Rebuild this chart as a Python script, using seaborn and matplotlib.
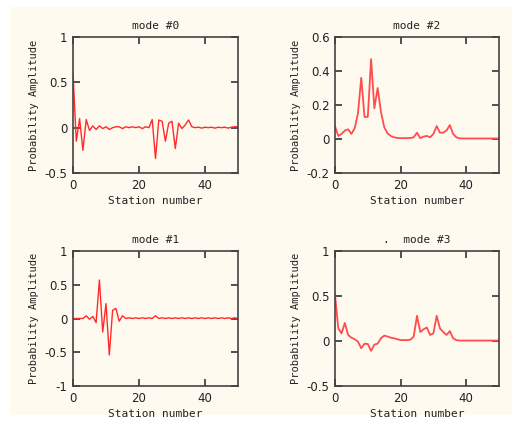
import numpy as np
import pandas as pd
import seaborn as sns
import matplotlib
matplotlib.use("Agg")
import matplotlib.pyplot as plt
from matplotlib.patches import Rectangle

stations = list(range(51))

mode0 = [0.60, -0.15, 0.10, -0.25, 0.09, -0.03, 0.02, -0.02, 0.02, -0.01,
         0.01, -0.02, 0.00, 0.01, 0.01, -0.01, 0.01, 0.00, 0.01, 0.00,
         0.01, -0.01, 0.01, 0.00, 0.09, -0.34, 0.085, 0.07, -0.15, 0.05,
         0.07, -0.23, 0.05, -0.01, 0.03, 0.085, 0.01, 0.00, 0.005, -0.005,
         0.005, 0.00, 0.005, -0.005, 0.005, 0.00, 0.005, -0.005, 0.005, 0.01, 0.01]

mode1 = [0.00, 0.00, 0.00, 0.00, 0.04, -0.01, 0.03, -0.06, 0.57, -0.20,
         0.22, -0.54, 0.12, 0.15, -0.04, 0.04, 0.00, 0.01, 0.00, 0.01,
         0.00, 0.01, 0.00, 0.01, 0.00, 0.04, 0.00, 0.01, 0.00, 0.01,
         0.00, 0.01, 0.00, 0.01, 0.00, 0.01, 0.00, 0.01, 0.00, 0.01,
         0.00, 0.01, 0.00, 0.01, 0.00, 0.01, 0.00, 0.01, 0.00, 0.01, 0.00]

mode2 = [0.076, 0.018, 0.03, 0.05, 0.057, 0.03, 0.063, 0.15, 0.36, 0.13,
         0.13, 0.47, 0.18, 0.30, 0.16, 0.07, 0.033, 0.018, 0.01, 0.006,
         0.005, 0.005, 0.005, 0.006, 0.01, 0.037, 0.005, 0.014, 0.018, 0.01,
         0.03, 0.076, 0.037, 0.037, 0.05, 0.082, 0.03, 0.01, 0.004, 0.003,
         0.003, 0.003, 0.003, 0.003, 0.003, 0.003, 0.003, 0.003, 0.003, 0.003, 0.003]

mode3 = [0.52, 0.14, 0.085, 0.20, 0.067, 0.037, 0.02, -0.007, -0.08, -0.03,
         -0.033, -0.11, -0.04, -0.03, 0.03, 0.06, 0.05, 0.037, 0.03, 0.02,
         0.01, 0.01, 0.01, 0.015, 0.05, 0.28, 0.10, 0.13, 0.15, 0.067,
         0.085, 0.28, 0.14, 0.10, 0.067, 0.11, 0.03, 0.01, 0.005, 0.005,
         0.005, 0.005, 0.005, 0.005, 0.005, 0.005, 0.005, 0.005, 0.005, 0.005, 0.005]

titles = ["mode #0", "mode #2", "mode #1", ".  mode #3"]
series = [mode0, mode2, mode1, mode3]
ylims = [(-0.5, 1), (-0.2, 0.6), (-1, 1), (-0.5, 1)]
yticks = [[-0.5, 0, 0.5, 1], [-0.2, 0, 0.2, 0.4, 0.6], [-1, -0.5, 0, 0.5, 1], [-0.5, 0, 0.5, 1]]
yticklabels = [["-0.5", "0", "0.5", "1"], ["-0.2", "0", "0.2", "0.4", "0.6"],
               ["-1", "-0.5", "0", "0.5", "1"], ["-0.5", "0", "0.5", "1"]]
xticks = [0, 20, 40]
xticklabels = ["0", "20", "40"]

sns.set_style("ticks")
plt.rcParams["font.family"] = ["DejaVu Sans Mono", "DejaVu Sans"]

W, H = 517, 421
fig = plt.figure(figsize=(W / 100, H / 100), dpi=100, facecolor="white")
cream = "#fffaf0"
fig.patches.append(Rectangle((10 / W, 1 - 415 / H), 502 / W, 408 / H,
                             transform=fig.transFigure, facecolor=cream,
                             edgecolor="none", zorder=-10))

positions = [(73, 37, 238, 173), (335, 37, 499, 173), (73, 251, 238, 386), (335, 251, 499, 386)]
colors = ["#ff2a2a", "#ff4d4d", "#ff2a2a", "#ff4d4d"]
lws = [1.0, 1.3, 1.0, 1.3]

for i in range(4):
    l, t, r, b = positions[i]
    ax = fig.add_axes([l / W, 1 - b / H, (r - l) / W, (b - t) / H])
    ax.set_facecolor(cream)
    df = pd.DataFrame({"station": stations, "amp": series[i]})
    sns.lineplot(data=df, x="station", y="amp", ax=ax, color=colors[i], lw=lws[i])
    ax.set_xlim(0, 50)
    ax.set_ylim(*ylims[i])
    ax.set_xticks(xticks)
    ax.set_xticklabels(xticklabels, family="DejaVu Sans")
    ax.set_yticks(yticks[i])
    ax.set_yticklabels(yticklabels[i], family="DejaVu Sans")
    ax.tick_params(direction="in", length=5, width=1.2, color="#333333",
                   top=True, right=True, labelsize=8.5, pad=4, labelcolor="#222222")
    for s in ax.spines.values():
        s.set_color("#444444")
        s.set_linewidth(1.2)
    ax.set_xlabel("Station number", fontsize=8, color="#222222", labelpad=3)
    ax.set_ylabel("Probability Amplitude", fontsize=7.5, color="#222222", labelpad=4)
    ax.set_title(titles[i], fontsize=8, color="#222222", pad=6)

fig.savefig("out.png", dpi=100, facecolor="white")
